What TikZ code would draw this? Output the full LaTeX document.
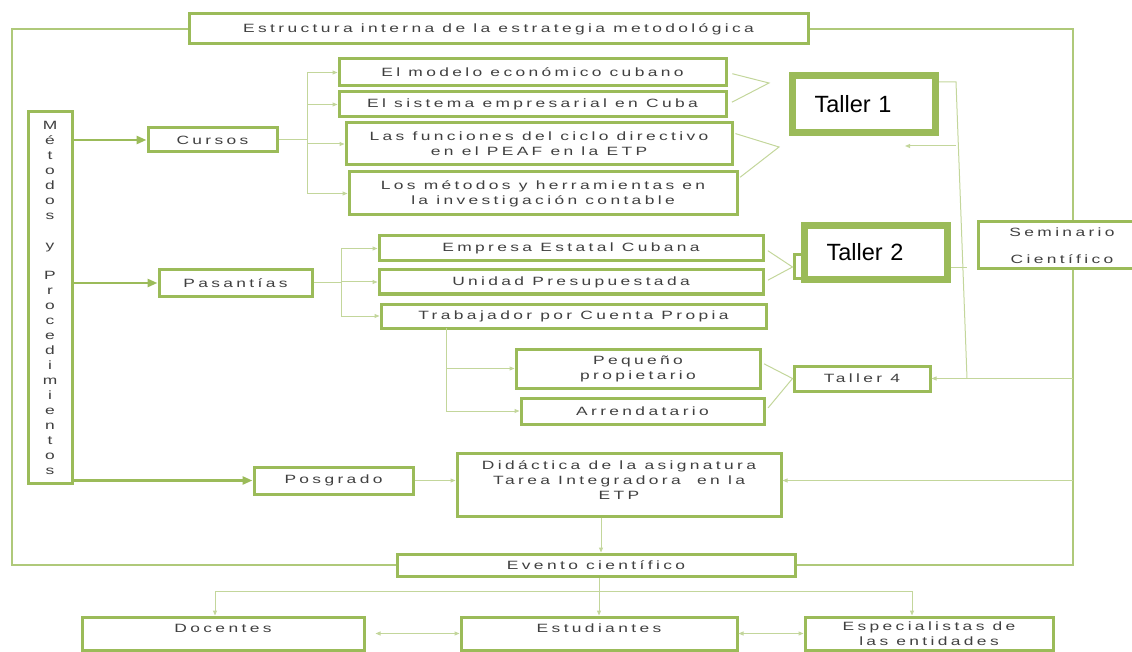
\documentclass[tikz,border=0pt]{standalone}
\usepackage{fontspec}
\setmainfont{Liberation Sans}
\newfontfamily\boxfont{Liberation Sans}[FakeStretch=1.45,LetterSpace=28]
\newfontfamily\tallerfont{Liberation Sans}
\usetikzlibrary{arrows.meta}
\definecolor{boxgreen}{HTML}{9BBB59}
\definecolor{linegreen}{HTML}{C3D69B}
\definecolor{textgray}{HTML}{404040}

\begin{document}
\begin{tikzpicture}[x=1pt,y=1pt]
    \tikzstyle{every node}+=[inner sep=0pt]
    \tikzstyle{box}=[draw=boxgreen, line width=3pt, fill=white, text=textgray, align=center, font={\boxfont\fontsize{12}{15}\selectfont}]
    \tikzstyle{bigbox}=[draw=boxgreen, line width=7pt, fill=white, align=left, inner xsep=22pt, text width=99pt, font={\tallerfont\fontsize{23.5}{28}\selectfont}]
    \tikzstyle{frame}=[draw=boxgreen!80, line width=1.2pt]
    \tikzstyle{link}=[draw=linegreen, line width=1pt]
    \tikzstyle{linkarrow}=[link, -{Triangle[length=5pt,width=4pt]}]
    \tikzstyle{linkboth}=[link, {Triangle[length=5pt,width=4pt]}-{Triangle[length=5pt,width=4pt]}]
    \tikzstyle{mainarrow}=[draw=boxgreen, line width=2.5pt, -{Triangle[length=10pt,width=8pt]}]
    \useasboundingbox (0,0) rectangle (1132,-652);

    % boxes
    \node [box, minimum width=619pt, minimum height=30pt] (title) at (498.5,-29) {Estructura interna de la estrategia metodológica};
    \node [box, minimum width=44pt, minimum height=371pt] (metodos) at (50,-297.5) {M\\é\\t\\o\\d\\o\\s\\[15pt]y\\[15pt]P\\r\\o\\c\\e\\d\\i\\m\\i\\e\\n\\t\\o\\s};
    \node [box, minimum width=129pt, minimum height=24pt] (cursos) at (212.5,-140) {Cursos};
    \node [box, minimum width=153pt, minimum height=26pt] (pasantias) at (235.5,-283) {Pasantías};
    \node [box, minimum width=159pt, minimum height=27pt] (posgrado) at (333.5,-480.5) {Posgrado};
    \node [box, minimum width=387pt, minimum height=27pt] (modelo) at (532.5,-72.5) {El modelo económico cubano};
    \node [box, minimum width=387pt, minimum height=25pt] (sistema) at (532.5,-104.5) {El sistema empresarial en Cuba};
    \node [box, minimum width=386pt, minimum height=42pt] (funciones) at (539,-144) {Las funciones del ciclo directivo\\en el PEAF en la ETP};
    \node [box, minimum width=388pt, minimum height=43pt] (herram) at (543,-193.5) {Los métodos y herramientas en\\la investigación contable};
    \node [box, minimum width=384pt, minimum height=25pt] (empresa) at (571,-248.5) {Empresa Estatal Cubana};
    \node [box, minimum width=384pt, minimum height=24pt] (unidad) at (571,-282) {Unidad Presupuestada};
    \node [box, minimum width=385pt, minimum height=24pt] (trabajador) at (573.5,-316) {Trabajador por Cuenta Propia};
    \node [box, minimum width=244pt, minimum height=39pt] (pequeno) at (638,-368.5) {Pequeño\\propietario};
    \node [box, minimum width=243pt, minimum height=26pt] (arrend) at (642.5,-411) {Arrendatario};
    \node [bigbox, minimum height=57pt] (taller1) at (864,-104) {Taller 1};
    \node [box, minimum width=9pt, minimum height=24pt] (t2tab) at (798.5,-267) {};
    \node [bigbox, minimum height=54pt] (taller2) at (876,-252.5) {Taller 2};
    \node [box, minimum width=136pt, minimum height=25pt] (taller4) at (862,-378.5) {Taller 4};
    \node [box, minimum width=168pt, minimum height=47pt] (seminario) at (1062,-245.5) {Seminario\\[12pt]Científico};
    \node [box, minimum width=324pt, minimum height=63pt, text depth=9pt] (didac) at (619,-484.5) {Didáctica de la asignatura\\Tarea Integradora\ \ en la\\ETP};
    \node [box, minimum width=398pt, minimum height=22pt] (evento) at (596,-565) {Evento científico};
    \node [box, minimum width=282pt, minimum height=33pt, text depth=10.5pt] (docentes) at (223,-633.5) {Docentes};
    \node [box, minimum width=276pt, minimum height=33pt, text depth=10.5pt] (estud) at (599,-633.5) {Estudiantes};
    \node [box, minimum width=248pt, minimum height=33pt] (especial) at (929,-633.5) {Especialistas de\\las entidades};

    % points
    \coordinate (ftl) at (12,-29);
    \coordinate (fbl) at (12,-565);
    \coordinate (ftr) at (1073,-29);
    \coordinate (fbr) at (1073,-565);
    \coordinate (cjoin) at (307,-140);
    \coordinate (pjoin) at (341,-283);
    \coordinate (tjoin) at (446,-328);
    \coordinate (t1in) at (769,-83);
    \coordinate (t1low) at (779,-147);
    \coordinate (t1bend) at (956,-82);
    \coordinate (t1foot) at (967,-378.5);
    \coordinate (t1tip) at (905,-146);
    \coordinate (busL) at (215,-591);
    \coordinate (busR) at (912,-591);

    % frame
    \draw [frame] (title.west) -- (ftl) -- (fbl) -- (evento.west);
    \draw [frame] (title.east) -- (ftr) -- (seminario.north -| ftr);
    \draw [frame] (seminario.south -| ftr) -- (fbr) -- (evento.east);

    % main arrows
    \draw [mainarrow] (metodos.east |- cursos.west) -- (cursos.west);
    \draw [mainarrow] (metodos.east |- pasantias.west) -- (pasantias.west);
    \draw [mainarrow] (metodos.east |- posgrado.west) -- (posgrado.west);

    % cursos
    \draw [link] (cursos.east) -- (cjoin);
    \draw [linkarrow] (cjoin) |- (modelo.west);
    \draw [linkarrow] (cjoin) |- (sistema.west);
    \draw [linkarrow] (cjoin) |- (funciones.west);
    \draw [linkarrow] (cjoin) |- (herram.west);
    \draw [link, shorten <=5pt, shorten >=5pt] (modelo.east) -- (t1in) -- (sistema.east);
    \draw [link, shorten <=2pt, shorten >=2pt] ([yshift=11pt]funciones.east) -- (t1low) -- ([yshift=15pt]herram.east);

    % pasantias
    \draw [link] (pasantias.east) -- (pjoin);
    \draw [linkarrow] (pjoin) |- (empresa.west);
    \draw [linkarrow] (pjoin) |- (unidad.west);
    \draw [linkarrow] (pjoin) |- (trabajador.west);
    \draw [linkarrow] (tjoin) |- (pequeno.west);
    \draw [linkarrow] (tjoin) |- (arrend.west);
    \draw [link, shorten <=4pt, shorten >=4pt] (empresa.east) -- (t2tab.west) -- (unidad.east);
    \draw [link, shorten <=3pt, shorten >=4pt] ([yshift=6pt]pequeno.east) -- (taller4.west) -- (arrend.east);

    % talleres
    \draw [link] (taller1.east |- t1bend) -- (t1bend) -- (t1foot);
    \draw [linkarrow] (t1tip -| t1bend) -- (t1tip);
    \draw [link] ([yshift=-15.5pt]taller2.east) -- ++(16,0);
    \draw [linkarrow] (taller4.east -| ftr) -- (taller4.east);

    % posgrado
    \draw [linkarrow] (posgrado.east) -- (posgrado.east -| didac.west);
    \draw [linkarrow] (posgrado.east -| ftr) -- (posgrado.east -| didac.east);
    \draw [linkarrow] ([xshift=5pt]evento.north |- didac.south) -- ([xshift=5pt]evento.north);

    % evento
    \draw [linkarrow] (estud.north |- evento.south) -- (estud.north);
    \draw [linkarrow] (busR) -- (busL) -- (busL |- docentes.north);
    \draw [linkarrow] (busR) -- (busR |- especial.north);
    \draw [linkboth, shorten <=10pt] (docentes.east) -- (estud.west);
    \draw [linkboth] (estud.east) -- (especial.west);
\end{tikzpicture}
\end{document}
